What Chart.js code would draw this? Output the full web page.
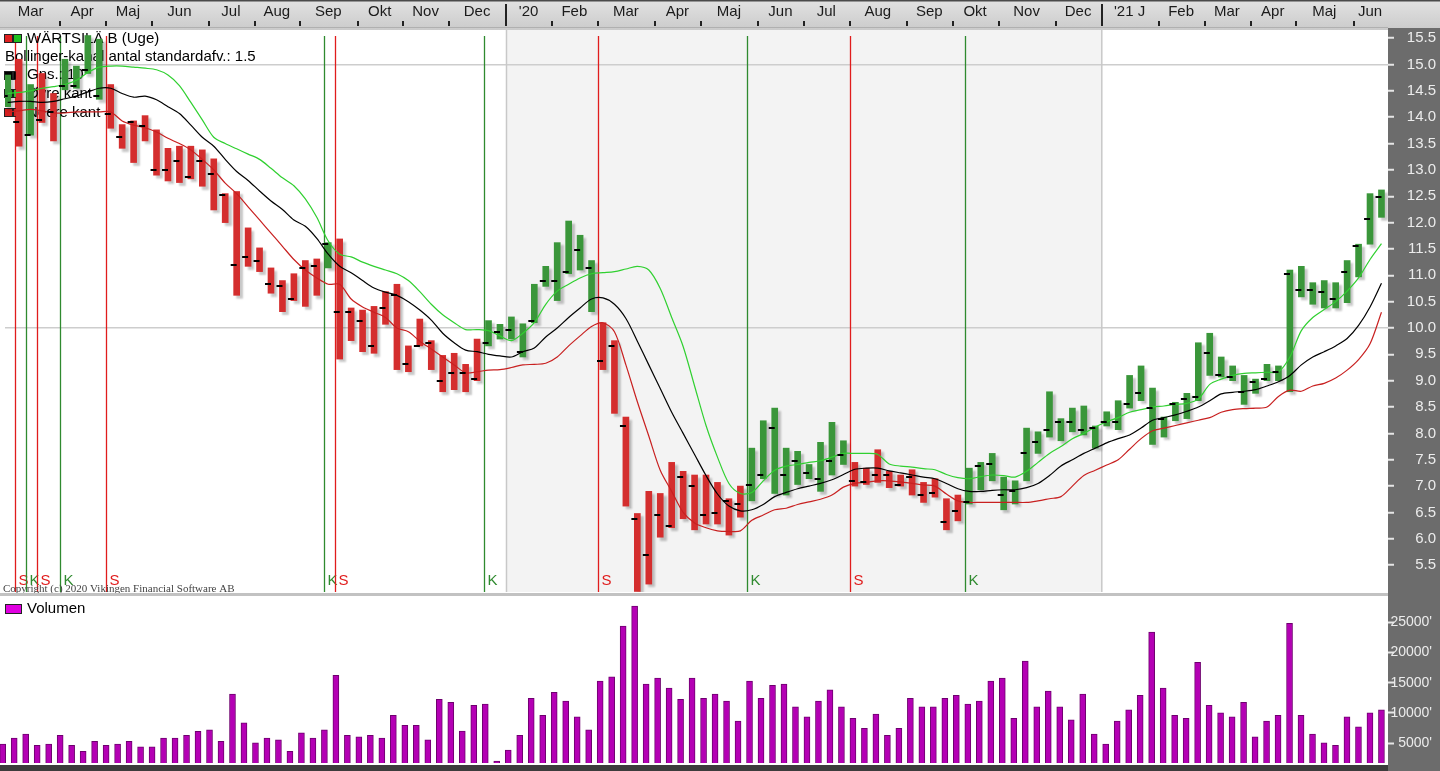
<!DOCTYPE html>
<html>
<head>
<meta charset="utf-8">
<title>Wärtsilä B (Uge)</title>
<script src="https://cdn.jsdelivr.net/npm/chart.js@4.4.1/dist/chart.umd.min.js"></script>
<style>
  body { margin: 0; background: #fff; overflow: hidden; }
  #kursBoks { position: absolute; left: 0; top: 0; width: 1440px; height: 597px; }
  #volBoks { position: absolute; left: 0; top: 597px; width: 1440px; height: 174px; }
</style>
</head>
<body>
<div id="kursBoks"><canvas id="kurs"></canvas></div>
<div id="volBoks"><canvas id="volumen"></canvas></div>
<script>
const maaneder = ["Mar", "Apr", "Maj", "Jun", "Jul", "Aug", "Sep", "Okt", "Nov", "Dec",
  "'20", "Feb", "Mar", "Apr", "Maj", "Jun", "Jul", "Aug", "Sep", "Okt", "Nov", "Dec",
  "'21 J", "Feb", "Mar", "Apr", "Maj", "Jun"];
const ugerPrMaaned = [5, 4, 4, 5, 4, 4, 5, 4, 4, 5, 4, 4, 5, 4, 5, 4, 4, 5, 4, 4, 5, 4, 5, 4, 4, 4, 5, 3];

const hoej = [14.8, 15.1, 14.62, 14.83, 14.45, 15.1, 14.97, 15.55, 15.48, 14.62,
  13.86, 13.93, 14.03, 13.76, 13.41, 13.45, 13.45, 13.38, 13.21, 12.55,
  12.59, 11.9, 11.52, 11.14, 10.9, 11.03, 11.28, 11.31, 11.62, 11.69,
  10.38, 10.34, 10.41, 10.69, 10.83, 9.66, 10.17, 9.76, 9.48, 9.52,
  9.31, 9.79, 10.14, 10.07, 10.21, 10.08, 10.83, 11.17, 11.62, 12.03,
  11.76, 11.28, 10.1, 9.76, 8.31, 6.48, 6.9, 6.86, 7.45, 7.28,
  7.21, 7.21, 7.07, 6.76, 7.0, 7.72, 8.24, 8.48, 7.72, 7.66,
  7.41, 7.83, 8.21, 7.86, 7.45, 7.34, 7.69, 7.28, 7.21, 7.31,
  7.07, 7.14, 6.76, 6.83, 7.34, 7.45, 7.62, 7.17, 7.1, 8.1,
  8.03, 8.79, 8.28, 8.48, 8.52, 8.14, 8.41, 8.62, 9.1, 9.28,
  8.86, 8.31, 8.59, 8.76, 9.72, 9.9, 9.45, 9.28, 9.1, 9.03,
  9.31, 9.28, 11.1, 11.17, 10.86, 10.9, 10.86, 11.28, 11.59, 12.55,
  12.62];
const lav = [14.2, 13.45, 13.66, 13.9, 13.55, 14.52, 14.55, 14.83, 14.34, 13.79,
  13.41, 13.14, 13.55, 12.9, 12.79, 12.76, 12.83, 12.69, 12.24, 12.0,
  10.62, 11.17, 11.07, 10.66, 10.31, 10.52, 10.41, 10.62, 11.14, 9.41,
  9.76, 9.55, 9.52, 10.07, 9.21, 9.17, 9.66, 9.21, 8.79, 8.83,
  8.79, 9.0, 9.66, 9.79, 9.79, 9.45, 10.1, 10.79, 10.52, 11.03,
  11.1, 10.31, 9.21, 8.38, 6.62, 5.0, 5.14, 6.03, 6.21, 6.38,
  6.17, 6.28, 6.28, 6.07, 6.41, 6.72, 7.14, 6.86, 6.83, 7.03,
  7.14, 6.9, 7.21, 7.41, 7.0, 7.03, 7.07, 6.97, 7.0, 6.83,
  6.69, 6.79, 6.17, 6.34, 6.66, 6.93, 7.1, 6.55, 6.66, 7.1,
  7.62, 7.93, 7.86, 8.03, 7.97, 7.72, 8.14, 8.07, 8.48, 8.62,
  7.79, 7.93, 8.24, 8.28, 8.62, 9.1, 9.07, 9.0, 8.55, 8.76,
  9.0, 9.0, 8.79, 10.59, 10.45, 10.38, 10.38, 10.48, 10.97, 11.59,
  12.1];
const luk = [14.4, 13.9, 13.67, 13.95, 14.1, 14.6, 14.6, 14.9, 14.4, 14.07,
  13.62, 13.9, 13.83, 13.0, 13.0, 13.17, 12.86, 13.17, 12.93, 12.52,
  11.2, 11.34, 11.28, 10.83, 10.79, 10.55, 11.14, 11.17, 11.59, 10.31,
  10.31, 10.14, 9.66, 10.38, 10.62, 9.31, 9.66, 9.72, 9.0, 9.14,
  9.14, 9.03, 9.72, 9.93, 9.97, 9.55, 10.14, 10.9, 10.9, 11.07,
  11.48, 11.14, 9.38, 9.66, 8.14, 6.38, 5.7, 6.45, 6.24, 7.17,
  7.0, 6.45, 6.48, 6.72, 6.66, 7.03, 7.21, 8.1, 7.21, 7.48,
  7.24, 7.14, 7.48, 7.59, 7.1, 7.07, 7.21, 7.21, 7.03, 7.17,
  6.83, 6.86, 6.31, 6.52, 6.69, 7.38, 7.41, 6.83, 6.9, 7.62,
  7.83, 8.07, 8.21, 8.21, 8.07, 8.1, 8.21, 8.21, 8.55, 8.76,
  8.48, 8.28, 8.55, 8.66, 8.69, 9.52, 9.1, 9.07, 8.79, 8.97,
  9.03, 9.17, 11.03, 10.72, 10.72, 10.69, 10.55, 11.07, 11.55, 12.07,
  12.48];

const oevreKant = [14.45, 14.47, 14.5, 14.55, 14.58, 14.62, 14.7, 14.85, 14.95, 14.97,
  14.97, 14.95, 14.93, 14.9, 14.8, 14.6, 14.28, 13.95, 13.62, 13.5,
  13.4, 13.3, 13.2, 13.03, 12.85, 12.7, 12.45, 12.1, 11.65, 11.4,
  11.35, 11.25, 11.17, 11.1, 11.03, 10.9, 10.69, 10.45, 10.25, 10.1,
  9.97, 9.97, 9.95, 9.85, 9.76, 9.9, 10.1, 10.45, 10.7, 10.83,
  10.95, 11.03, 11.05, 11.07, 11.12, 11.17, 11.1, 10.75, 10.2, 9.65,
  8.9, 8.15, 7.55, 7.05, 6.86, 6.88, 7.1, 7.3, 7.38, 7.41,
  7.45, 7.48, 7.55, 7.62, 7.62, 7.62, 7.6, 7.42, 7.38, 7.36,
  7.33, 7.31, 7.22, 7.16, 7.14, 7.18, 7.21, 7.2, 7.17, 7.28,
  7.45, 7.62, 7.75, 7.9, 8.0, 8.12, 8.22, 8.3, 8.4, 8.45,
  8.5, 8.52, 8.55, 8.57, 8.65, 8.93, 9.03, 9.1, 9.14, 9.15,
  9.16, 9.17, 9.45, 9.95, 10.2, 10.35, 10.5, 10.7, 10.95, 11.3,
  11.6];
const gennemsnit = [14.28, 14.3, 14.3, 14.28, 14.3, 14.35, 14.4, 14.48, 14.55, 14.55,
  14.45, 14.38, 14.4, 14.33, 14.2, 14.07, 13.85, 13.62, 13.45, 13.2,
  12.97, 12.8, 12.6, 12.41, 12.25, 12.05, 11.93, 11.7, 11.4, 11.17,
  11.05, 10.9, 10.76, 10.68, 10.62, 10.5, 10.34, 10.15, 9.9, 9.72,
  9.58, 9.55, 9.5, 9.47, 9.45, 9.55, 9.62, 9.83, 10.0, 10.2,
  10.38, 10.55, 10.57, 10.45, 10.18, 9.75, 9.3, 8.85, 8.4, 8.0,
  7.6, 7.2, 6.85, 6.62, 6.53, 6.55, 6.65, 6.8, 6.88, 6.95,
  7.0, 7.05, 7.12, 7.22, 7.32, 7.34, 7.34, 7.29, 7.25, 7.21,
  7.17, 7.14, 7.05, 6.95, 6.9, 6.9, 6.92, 6.93, 6.93, 6.97,
  7.05, 7.2, 7.38, 7.5, 7.62, 7.72, 7.82, 7.9, 7.97, 8.1,
  8.25, 8.3, 8.35, 8.42, 8.5, 8.62, 8.75, 8.78, 8.8, 8.83,
  8.9, 8.98, 9.1, 9.3, 9.45, 9.55, 9.66, 9.8, 10.05, 10.4,
  10.85];
const nedreKant = [14.1, 14.12, 14.15, 14.12, 14.08, 14.08, 14.1, 14.1, 14.1, 14.1,
  13.93, 13.85, 13.8, 13.72, 13.6, 13.5, 13.38, 13.2, 13.0, 12.75,
  12.55, 12.3, 12.05, 11.8, 11.55, 11.3, 11.1, 10.95, 10.83, 10.83,
  10.55, 10.4, 10.3, 10.2, 10.0, 9.93, 9.75, 9.6, 9.45, 9.3,
  9.15, 9.17, 9.2, 9.21, 9.25, 9.3, 9.31, 9.33, 9.45, 9.66,
  9.85, 10.03, 10.1, 9.93, 9.3, 8.6, 7.95, 7.3, 6.9, 6.5,
  6.3, 6.21, 6.15, 6.14, 6.15, 6.35, 6.45, 6.55, 6.58, 6.65,
  6.7, 6.75, 6.83, 6.98, 7.05, 7.07, 7.1, 7.1, 7.08, 7.05,
  7.02, 7.0, 6.85, 6.72, 6.69, 6.69, 6.69, 6.69, 6.69, 6.69,
  6.72, 6.76, 6.8, 7.0, 7.2, 7.3, 7.4, 7.5, 7.7, 7.9,
  8.05, 8.1, 8.15, 8.2, 8.25, 8.3, 8.4, 8.45, 8.47, 8.48,
  8.5, 8.7, 8.82, 8.8, 8.9, 8.95, 9.05, 9.2, 9.4, 9.7,
  10.3];

const volumen = [4830, 5830, 6490, 4620, 4830, 6270, 4620, 3620, 5280, 4620,
  4830, 5280, 4390, 4390, 5830, 5830, 6270, 6940, 7210, 5280,
  13130, 8370, 5060, 5830, 5550, 3620, 6720, 5830, 7210, 16220,
  6270, 6050, 6270, 5830, 9590, 7930, 7930, 5550, 12250, 11750,
  6990, 11250, 11470, 2000, 3840, 6270, 12410, 9590, 13410, 11970,
  9360, 7210, 15280, 16000, 24400, 27720, 14780, 15780, 14120, 12250,
  15780, 12410, 13130, 11970, 8650, 15280, 12410, 14570, 14780, 11030,
  9360, 11970, 13840, 11030, 9090, 7430, 9810, 6270, 7430, 12410,
  11030, 11030, 12410, 12910, 11470, 11970, 15280, 15780, 9090, 18600,
  11030, 13620, 11030, 8860, 13130, 6490, 4830, 8650, 10520, 12910,
  23410, 14120, 9590, 9090, 18380, 11250, 10030, 9360, 11750, 6050,
  8650, 9590, 24850, 9590, 6490, 5060, 4620, 9360, 7700, 10030,
  10520];

// uge-index hvor et signal skifter (K = koeb, S = salg)
const signalUge = [1, 2, 3, 5, 9, 28, 29, 42, 52, 65, 74, 84];
const signalType = ["S", "K", "S", "K", "S", "K", "S", "K", "S", "K", "S", "K"];

const kursTicks = [5.5, 6.0, 6.5, 7.0, 7.5, 8.0, 8.5, 9.0, 9.5, 10.0, 10.5, 11.0, 11.5, 12.0, 12.5, 13.0, 13.5, 14.0, 14.5, 15.0, 15.5];
const volTicks = [5000, 10000, 15000, 20000, 25000];

const GROEN = "#3a963a";
const ROED = "#d42e2e";
const SKRIFT = '"Liberation Sans", Arial, sans-serif';
Chart.defaults.font.family = SKRIFT;

const xMin = -0.235;
const xMax = 120.57;

// maanedsgraenser og midterpunkter i uge-index
const graenser = [];
const midter = [];
const aarGraenser = [];
let start = 0;
ugerPrMaaned.forEach((u, i) => {
  if (maaneder[i].startsWith("'")) aarGraenser.push(start - 0.43);
  else if (i > 0) graenser.push(start - 0.43);
  midter.push(start + (u - 1) / 2);
  start += u;
});

const farver = [];
let tilstand = "K";
hoej.forEach((h, i) => {
  const k = signalUge.indexOf(i);
  if (k >= 0) tilstand = signalType[k];
  farver.push(tilstand === "K" ? GROEN : ROED);
});

// lille sort streg til venstre for hver bjaelke
const streg = document.createElement("canvas");
streg.width = 14;
streg.height = 2;
const sctx = streg.getContext("2d");
sctx.fillStyle = "#000";
sctx.fillRect(1, 0, 6, 2);

function boks(ctx, x, y, farve) {
  ctx.fillStyle = farve;
  ctx.fillRect(x, y, 8, 8);
  ctx.strokeStyle = "#222";
  ctx.lineWidth = 1;
  ctx.strokeRect(x + 0.5, y + 0.5, 8, 8);
  ctx.fillStyle = "#000";
}

function nulPadding(s) {
  s.paddingTop = 0;
  s.paddingBottom = 0;
  s.paddingLeft = 0;
  s.paddingRight = 0;
}

const skygge = {
  id: "skygge",
  beforeDatasetDraw(chart, args) {
    if (args.meta.type !== "bar") return;
    const ctx = chart.ctx;
    ctx.save();
    ctx.shadowColor = "rgba(0,0,0,0.22)";
    ctx.shadowOffsetX = 3;
    ctx.shadowOffsetY = 3;
    ctx.shadowBlur = 2;
  },
  afterDatasetDraw(chart, args) {
    if (args.meta.type === "bar") chart.ctx.restore();
  }
};

const kursPynt = {
  id: "kursPynt",
  beforeDraw(chart) {
    const { ctx, chartArea: a, scales: { x } } = chart;
    ctx.save();
    const grad = ctx.createLinearGradient(0, 0, 0, a.top);
    grad.addColorStop(0, "#e2e2e2");
    grad.addColorStop(1, "#cbcbcb");
    ctx.fillStyle = grad;
    ctx.fillRect(0, 0, chart.width, a.top);
    ctx.fillStyle = "#4a4a4a";
    ctx.fillRect(0, 0, chart.width, 1.5);
    ctx.fillStyle = "#b0b0b0";
    ctx.fillRect(0, a.top - 3, a.right, 1);
    ctx.fillStyle = "#6c6c6c";
    ctx.fillRect(a.right, a.top - 2, chart.width - a.right, chart.height - a.top + 2);

    const x1 = x.getPixelForValue(aarGraenser[0]);
    const x2 = x.getPixelForValue(aarGraenser[1]);
    ctx.fillStyle = "#f3f3f3";
    ctx.fillRect(x1, a.top, x2 - x1, a.bottom - a.top);

    ctx.strokeStyle = "#222";
    ctx.lineWidth = 2;
    graenser.forEach(g => {
      const px = Math.round(x.getPixelForValue(g));
      ctx.beginPath();
      ctx.moveTo(px, a.top - 9);
      ctx.lineTo(px, a.top - 4);
      ctx.stroke();
    });
    aarGraenser.forEach(g => {
      const px = Math.round(x.getPixelForValue(g));
      ctx.beginPath();
      ctx.moveTo(px, 4);
      ctx.lineTo(px, a.top - 4);
      ctx.stroke();
    });
    ctx.restore();
  },
  beforeDatasetsDraw(chart) {
    const { ctx, chartArea: a, scales: { x } } = chart;
    ctx.save();
    ctx.strokeStyle = "#c8c8c8";
    ctx.lineWidth = 1.5;
    aarGraenser.forEach(g => {
      const px = x.getPixelForValue(g);
      ctx.beginPath();
      ctx.moveTo(px, a.top);
      ctx.lineTo(px, a.bottom);
      ctx.stroke();
    });

    ctx.font = "15px " + SKRIFT;
    ctx.textBaseline = "middle";
    ctx.textAlign = "left";
    signalUge.forEach((u, i) => {
      const px = Math.round(x.getPixelForValue(u - 0.4)) + 0.5;
      const farve = signalType[i] === "K" ? "#2f8a2f" : "#e01c1c";
      ctx.strokeStyle = farve;
      ctx.lineWidth = 1.3;
      ctx.beginPath();
      ctx.moveTo(px, a.top + 6);
      ctx.lineTo(px, a.bottom);
      ctx.stroke();
      ctx.fillStyle = farve;
      ctx.fillText(signalType[i], px + 3, a.bottom - 11);
    });

    boks(ctx, 4, 34, "#e02020");
    boks(ctx, 13, 34, "#20c020");
    ctx.fillText("WÄRTSILÄ B (Uge)", 27, 39);
    ctx.fillText("Bollinger-kanal antal standardafv.: 1.5", 5, 57);
    boks(ctx, 4, 71, "#000");
    boks(ctx, 13, 71, "#000");
    ctx.fillText("Gns.: 10", 27, 75);
    boks(ctx, 4, 89, "#30d030");
    boks(ctx, 13, 89, "#30d030");
    ctx.fillText("Øvre kant", 27, 94);
    boks(ctx, 4, 108, "#d42020");
    boks(ctx, 13, 108, "#d42020");
    ctx.fillText("Nedre kant", 27, 113);

    ctx.font = '11px "Liberation Serif", "Times New Roman", serif';
    ctx.fillStyle = "#444";
    ctx.fillText("Copyright (c) 2020 Vikingen Financial Software AB", 3, a.bottom - 3);
    ctx.restore();
  },
  afterDraw(chart) {
    const { ctx, chartArea: a } = chart;
    ctx.save();
    ctx.fillStyle = "#c2c2c2";
    ctx.fillRect(0, a.bottom + 1, a.right, 3);
    ctx.restore();
  }
};

const volPynt = {
  id: "volPynt",
  beforeDraw(chart) {
    const { ctx, chartArea: a } = chart;
    ctx.save();
    ctx.fillStyle = "#6c6c6c";
    ctx.fillRect(a.right, 0, chart.width - a.right, chart.height);
    ctx.fillStyle = "#3c3c3c";
    ctx.fillRect(0, a.bottom + 2, a.right, chart.height - a.bottom - 2);
    ctx.restore();
  },
  beforeDatasetsDraw(chart) {
    const ctx = chart.ctx;
    ctx.save();
    ctx.fillStyle = "#e000e0";
    ctx.fillRect(5, 7, 16, 9);
    ctx.strokeStyle = "#222";
    ctx.lineWidth = 1;
    ctx.strokeRect(5.5, 7.5, 16, 9);
    ctx.font = "15px " + SKRIFT;
    ctx.textBaseline = "middle";
    ctx.fillStyle = "#000";
    ctx.fillText("Volumen", 27, 12);
    ctx.restore();
  }
};

new Chart(document.getElementById("kurs"), {
  type: "bar",
  data: {
    datasets: [
      {
        type: "line",
        data: luk.map((v, i) => ({ x: i, y: v })),
        showLine: false,
        pointStyle: streg,
        pointRadius: 3,
        order: 0
      },
      {
        type: "line",
        data: oevreKant.map((v, i) => ({ x: i, y: v })),
        borderColor: "#30d030",
        borderWidth: 1.2,
        pointRadius: 0,
        tension: 0.3,
        order: 1
      },
      {
        type: "line",
        data: gennemsnit.map((v, i) => ({ x: i, y: v })),
        borderColor: "#000",
        borderWidth: 1.2,
        pointRadius: 0,
        tension: 0.3,
        order: 1
      },
      {
        type: "line",
        data: nedreKant.map((v, i) => ({ x: i, y: v })),
        borderColor: "#c82020",
        borderWidth: 1.2,
        pointRadius: 0,
        tension: 0.3,
        order: 1
      },
      {
        type: "bar",
        data: lav.map((l, i) => ({ x: i, y: [l, hoej[i]] })),
        backgroundColor: farver,
        barThickness: 6,
        order: 2
      }
    ]
  },
  options: {
    responsive: true,
    maintainAspectRatio: false,
    animation: false,
    layout: { padding: { left: 0, right: 4, top: 0, bottom: 5 } },
    plugins: { legend: { display: false }, tooltip: { enabled: false } },
    scales: {
      x: {
        type: "linear",
        position: "top",
        min: xMin,
        max: xMax,
        bounds: "data",
        offset: false,
        afterBuildTicks: s => { s.ticks = midter.map(v => ({ value: v })); },
        afterFit: s => { s.height = 30; nulPadding(s); },
        grid: { display: false, drawTicks: false },
        border: { display: false },
        ticks: {
          autoSkip: false,
          maxRotation: 0,
          minRotation: 0,
          padding: 9,
          color: "#1b1b1b",
          font: { size: 15 },
          callback: (v, i) => maaneder[i]
        }
      },
      y: {
        type: "linear",
        position: "right",
        min: 4.99,
        max: 15.655,
        bounds: "data",
        afterBuildTicks: s => { s.ticks = kursTicks.map(v => ({ value: v })); },
        afterFit: s => { s.width = 48; nulPadding(s); },
        grid: {
          color: c => (c.tick && (c.tick.value === 10 || c.tick.value === 15)) ? "#cdcdcd" : "rgba(0,0,0,0)",
          lineWidth: 1.5,
          tickColor: "#e6e6e6",
          tickLength: 6,
          tickWidth: 2
        },
        border: { display: false },
        ticks: {
          color: "#ececec",
          font: { size: 15 },
          crossAlign: "far",
          padding: 4,
          callback: v => v.toFixed(1)
        }
      }
    }
  },
  plugins: [kursPynt, skygge]
});

new Chart(document.getElementById("volumen"), {
  type: "bar",
  data: {
    datasets: [{
      data: volumen.map((v, i) => ({ x: i, y: v })),
      backgroundColor: "#b400b4",
      borderColor: "#6e006e",
      borderWidth: 1,
      barThickness: 6
    }]
  },
  options: {
    responsive: true,
    maintainAspectRatio: false,
    animation: false,
    layout: { padding: { left: 0, right: 8, top: 3, bottom: 8 } },
    plugins: { legend: { display: false }, tooltip: { enabled: false } },
    scales: {
      x: {
        type: "linear",
        display: false,
        min: xMin,
        max: xMax,
        bounds: "data",
        offset: false
      },
      y: {
        type: "linear",
        position: "right",
        min: 1700,
        max: 28715,
        bounds: "data",
        afterBuildTicks: s => { s.ticks = volTicks.map(v => ({ value: v })); },
        afterFit: s => { s.width = 44; nulPadding(s); },
        grid: { drawOnChartArea: false, tickColor: "#e6e6e6", tickLength: 6, tickWidth: 2 },
        border: { display: false },
        ticks: {
          color: "#ececec",
          font: { size: 14 },
          crossAlign: "far",
          padding: 2,
          callback: v => v + "'"
        }
      }
    }
  },
  plugins: [volPynt]
});
</script>
</body>
</html>
